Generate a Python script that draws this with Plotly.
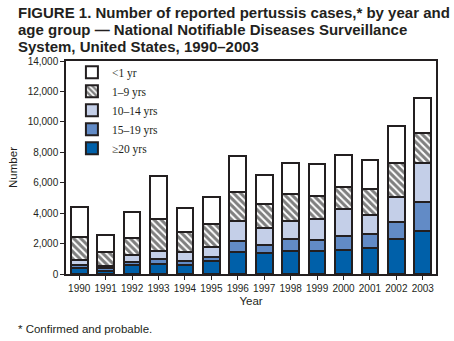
import plotly.graph_objects as go

years = ["1990", "1991", "1992", "1993", "1994", "1995", "1996",
         "1997", "1998", "1999", "2000", "2001", "2002", "2003"]
age_20_plus = [370, 230, 570, 680, 570, 830, 1420, 1360, 1530, 1490, 1550, 1685, 2275, 2840]
age_15_19 = [200, 180, 240, 300, 260, 285, 720, 520, 745, 720, 960, 915, 1115, 1860]
age_10_14 = [330, 135, 470, 510, 590, 635, 1320, 1160, 1185, 1380, 1730, 1290, 1680, 2620]
age_1_9 = [1500, 875, 1110, 2140, 1310, 1510, 1900, 1530, 1790, 1505, 1450, 1730, 2250, 1950]
age_lt1 = [2010, 1120, 1670, 2780, 1620, 1810, 2420, 1970, 2070, 2165, 2160, 1900, 2430, 2320]
y_ticks = [0, 2000, 4000, 6000, 8000, 10000, 12000, 14000]

series = [
    ("\u226520 yrs", age_20_plus, "#0060A9", None),
    ("15\u201319 yrs", age_15_19, "#628BC6", None),
    ("10\u201314 yrs", age_10_14, "#C4CFE8", None),
    ("1\u20139 yrs", age_1_9, "#FFFFFF", "\\"),
    ("<1 yr", age_lt1, "#FFFFFF", None),
]

ink = "#231F20"
fig = go.Figure()
for i, (name, vals, color, pat) in enumerate(series):
    marker = dict(color=color, line=dict(color=ink, width=2))
    if pat:
        marker["pattern"] = dict(shape=pat, fgcolor="#000000", bgcolor="#FFFFFF",
                                 size=5, solidity=0.6)
    fig.add_trace(go.Bar(x=years, y=vals, name=name, marker=marker,
                         legendgroup=f"g{i}", legendrank=len(series) - i))

fig.update_layout(
    width=454, height=341,
    barmode="stack", bargap=0.37,
    margin=dict(l=58, r=18, t=61, b=67),
    paper_bgcolor="white", plot_bgcolor="white",
    font=dict(family="Liberation Sans, Arial, sans-serif", color=ink, size=10),
    legend=dict(x=0.016, y=1.015, xanchor="left", yanchor="top",
                bgcolor="rgba(0,0,0,0)", traceorder="grouped",
                tracegroupgap=0,
                font=dict(family="Liberation Serif, Times New Roman, serif", size=11.5, color=ink)),
    showlegend=True,
)
fig.update_xaxes(type="category", showline=True, mirror=True, linecolor=ink, linewidth=1.5,
                 ticks="outside", ticklen=4, tickcolor=ink, tickwidth=1,
                 tickfont=dict(size=10),
                 title=dict(text="Year", font=dict(size=11.5), standoff=4),
                 showgrid=False)
fig.update_yaxes(range=[0, 14000], tickvals=y_ticks, tickformat=",d",
                 showline=True, mirror=True, linecolor=ink, linewidth=1.5,
                 ticks="outside", ticklen=4, tickcolor=ink, tickwidth=1,
                 tickfont=dict(size=10),
                 title=dict(text="Number", font=dict(size=11.5), standoff=8),
                 showgrid=False, zeroline=False)

title_lines = [
    "FIGURE 1. Number of reported pertussis cases,* by year and",
    "age group \u2014 National Notifiable Diseases Surveillance",
    "System, United States, 1990\u20132003",
]
title_centers = [12, 29.5, 47]
for line, yc in zip(title_lines, title_centers):
    fig.add_annotation(text=f"<b>{line}</b>", xref="paper", yref="paper",
                       x=-58 / 378 + 7 / 378, y=(274 - yc) / 213,
                       xanchor="left", yanchor="middle", showarrow=False,
                       font=dict(size=15, family="Liberation Sans, Arial, sans-serif", color=ink))

fig.add_annotation(text="* Confirmed and probable.", xref="paper", yref="paper",
                   x=-58 / 378 + 7 / 378, y=(274 - 329) / 213,
                   xanchor="left", yanchor="middle", showarrow=False,
                   font=dict(size=11.5, color=ink))

fig.write_html("out.html")
